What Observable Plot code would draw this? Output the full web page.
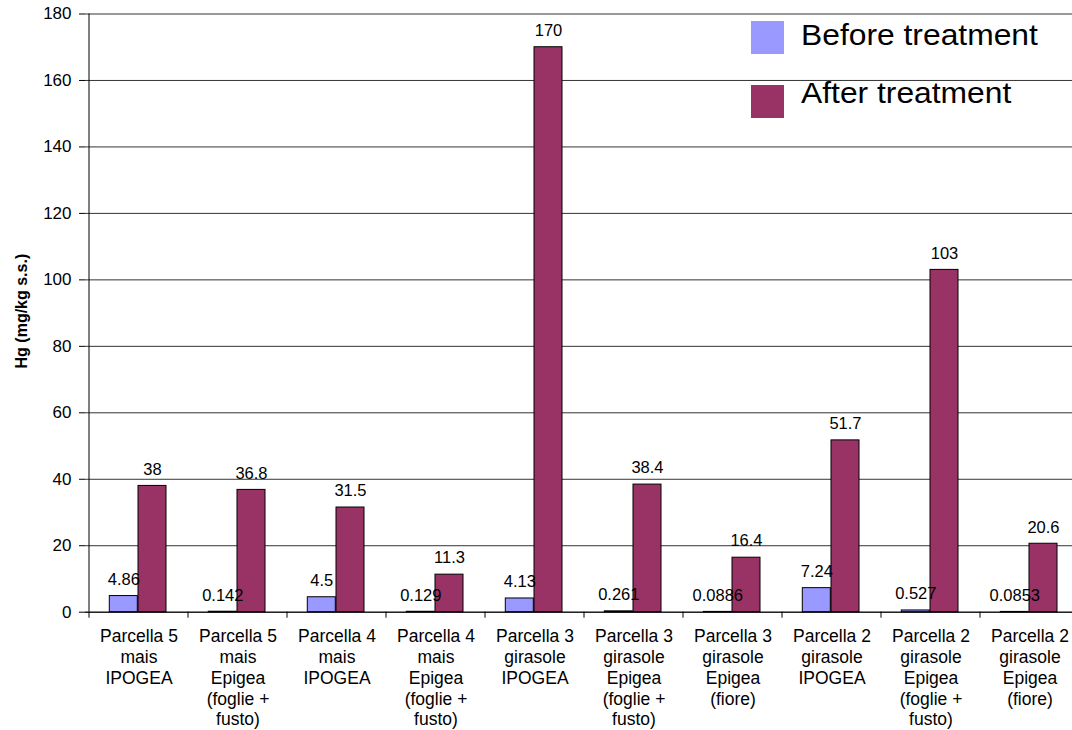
<!DOCTYPE html>
<html>
<head>
<meta charset="utf-8">
<script src="https://cdn.jsdelivr.net/npm/d3@7"></script>
<script src="https://cdn.jsdelivr.net/npm/@observablehq/plot@0.6"></script>
<style>
  html, body { margin: 0; padding: 0; background: #fff; overflow: hidden; }
  #wrap { position: relative; width: 1072px; height: 730px; overflow: hidden; font-family: "Liberation Sans", Arial, sans-serif; }
  #wrap svg { max-width: none !important; }
  .sw { position: absolute; width: 33px; height: 33px; }
  .lt { position: absolute; font-size: 30px; line-height: 30px; white-space: nowrap; color: #000; transform: scaleX(1.06); transform-origin: left center; }
</style>
</head>
<body>
<div id="wrap"></div>
<script>
const categories = ["P5 mais IPOGEA", "P5 mais Epigea", "P4 mais IPOGEA", "P4 mais Epigea", "P3 girasole IPOGEA",
  "P3 girasole Epigea foglie", "P3 girasole Epigea fiore", "P2 girasole IPOGEA", "P2 girasole Epigea foglie", "P2 girasole Epigea fiore"];
const tickLabels = [
  "Parcella 5\nmais\nIPOGEA",
  "Parcella 5\nmais\nEpigea\n(foglie +\nfusto)",
  "Parcella 4\nmais\nIPOGEA",
  "Parcella 4\nmais\nEpigea\n(foglie +\nfusto)",
  "Parcella 3\ngirasole\nIPOGEA",
  "Parcella 3\ngirasole\nEpigea\n(foglie +\nfusto)",
  "Parcella 3\ngirasole\nEpigea\n(fiore)",
  "Parcella 2\ngirasole\nIPOGEA",
  "Parcella 2\ngirasole\nEpigea\n(foglie +\nfusto)",
  "Parcella 2\ngirasole\nEpigea\n(fiore)"
];
const beforeValues = [4.86, 0.142, 4.5, 0.129, 4.13, 0.261, 0.0886, 7.24, 0.527, 0.0853];
const afterValues = [38, 36.8, 31.5, 11.3, 170, 38.4, 16.4, 51.7, 103, 20.6];
const seriesNames = ["Before treatment", "After treatment"];
const seriesColors = ["#9999FF", "#993366"];
const yTicks = [0, 20, 40, 60, 80, 100, 120, 140, 160, 180];
const yLabel = "Hg (mg/kg s.s.)";

const before = categories.map((c, i) => ({cat: c, value: beforeValues[i]}));
const after = categories.map((c, i) => ({cat: c, value: afterValues[i]}));

const font = "Liberation Sans, Arial, sans-serif";

const boundaryTicks = (index, scales, values, dimensions) => {
  const g = d3.create("svg:g").attr("stroke", "#000").attr("stroke-width", 1);
  const x = scales.x, y = scales.y;
  const bw = typeof x.bandwidth === "function" ? x.bandwidth() : x.bandwidth;
  const y0 = y(0);
  const xs = categories.map(c => x(c));
  xs.push(x(categories[categories.length - 1]) + bw);
  for (const xv of xs) {
    if (!isFinite(xv)) continue;
    g.append("line").attr("x1", xv).attr("x2", xv).attr("y1", y0).attr("y2", y0 + 6);
  }
  g.append("line").attr("x1", xs[0]).attr("x2", xs[0]).attr("y1", y(yTicks[yTicks.length - 1])).attr("y2", y0);
  return g.node();
};

const chart = Plot.plot({
  width: 1082,
  height: 730,
  marginLeft: 85,
  marginRight: 0,
  marginTop: 13.5,
  marginBottom: 118.3,
  style: {fontFamily: font, color: "#000", background: "#fff", overflow: "visible", maxWidth: "none"},
  x: {domain: categories, padding: 0},
  y: {domain: [0, 180]},
  marks: [
    Plot.gridY({ticks: yTicks, stroke: "#000", strokeOpacity: 0.8, strokeWidth: 1}),
    Plot.axisY({ticks: yTicks, tickSize: 6, tickPadding: 8, fontSize: 17, label: null, stroke: "#000", strokeOpacity: 1}),
    Plot.axisX({tickSize: 0, tickPadding: 15.5, fontSize: 17.5, lineHeight: 1.185, label: null,
      tickFormat: (d) => tickLabels[categories.indexOf(d)]}),
    Plot.barY(before, {x: "cat", y: "value", fill: seriesColors[0], stroke: "#000", strokeWidth: 1,
      insetLeft: 20.3, insetRight: 50.7}),
    Plot.barY(after, {x: "cat", y: "value", fill: seriesColors[1], stroke: "#000", strokeWidth: 1,
      insetLeft: 49, insetRight: 22}),
    Plot.ruleY([0], {stroke: "#000", strokeWidth: 1}),
    boundaryTicks,
    Plot.text(before, {x: "cat", y: "value", text: d => String(d.value), dx: -15.2, dy: -16.5, fontSize: 16.5, fill: "#000"}),
    Plot.text(after, {x: "cat", y: "value", text: d => String(d.value), dx: 13.5, dy: -16.5, fontSize: 16.5, fill: "#000"}),
    Plot.text([yLabel], {frameAnchor: "left", textAnchor: "middle", rotate: -90, dx: -63.5, dy: -2, fontSize: 16, fontWeight: "bold", fill: "#000"})
  ]
});

const wrap = document.getElementById("wrap");
wrap.appendChild(chart);

const legendPos = [{sw: 21, txt: 19.6}, {sw: 85, txt: 77.6}];
seriesNames.forEach((name, i) => {
  const sw = document.createElement("div");
  sw.className = "sw";
  sw.style.left = "751px";
  sw.style.top = legendPos[i].sw + "px";
  sw.style.background = seriesColors[i];
  wrap.appendChild(sw);
  const t = document.createElement("div");
  t.className = "lt";
  t.style.left = "801px";
  t.style.top = legendPos[i].txt + "px";
  t.textContent = name;
  wrap.appendChild(t);
});
</script>
</body>
</html>
